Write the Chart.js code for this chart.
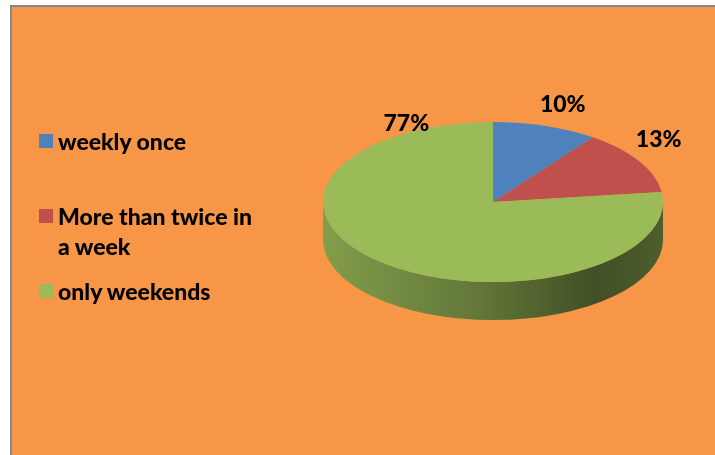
<!DOCTYPE html>
<html lang="en">
<head>
<meta charset="UTF-8">
<title>How often</title>
<script src="https://cdn.jsdelivr.net/npm/chart.js"></script>
<style>
  body { margin: 0; background: #fff; }
  .frame {
    position: absolute; left: 10px; top: 5px; width: 705px; height: 450px;
    background: #f79646; border-left: 2px solid #878787; border-top: 2px solid #878787;
  }
  #chart { position: absolute; left: 0; top: 0; }
  .legend {
    position: absolute; left: 39px; top: 0; margin: 0; padding: 0; list-style: none;
    font: 900 23px Lato, sans-serif; line-height: 30px; color: #000;
  }
  .legend li { position: relative; padding-left: 19px; width: 202px; }
  .legend li span { position: absolute; left: 0; top: 8px; width: 14px; height: 14px; }
  .legend li:nth-child(1) { margin-top: 126px; }
  .legend li:nth-child(2) { margin-top: 45px; }
  .legend li:nth-child(3) { margin-top: 15px; }
</style>
</head>
<body>
<div class="frame"></div>
<canvas id="chart" width="715" height="455"></canvas>
<ul class="legend" id="legend"></ul>

<script>
const categories = ['weekly once', 'More than twice in a week', 'only weekends'];
const shares = [10, 13, 77];
const sliceColors = ['#4f81bd', '#c0504d', '#9bbb59'];

// darken a #rrggbb colour by factor f
function shade(hex, f) {
  const n = parseInt(hex.slice(1), 16);
  const r = Math.round(((n >> 16) & 255) * f);
  const g = Math.round(((n >> 8) & 255) * f);
  const b = Math.round((n & 255) * f);
  return `rgb(${r},${g},${b})`;
}

// squash the pie into a tilted disc and give it a side wall
const pie3d = {
  id: 'pie3d',
  beforeDatasetsDraw(chart, args, opts) {
    const ctx = chart.ctx;
    const arcs = chart.getDatasetMeta(0).data;
    const cx = arcs[0].x, cy = arcs[0].y, r = arcs[0].outerRadius;
    const ry = r * opts.tilt;

    arcs.forEach((arc, i) => {
      const a1 = Math.max(arc.startAngle, 0);
      const a2 = Math.min(arc.endAngle, Math.PI);
      if (a2 <= a1) return;
      const base = arc.options.backgroundColor;
      const grad = ctx.createLinearGradient(cx - r, 0, cx + r, 0);
      grad.addColorStop(0, shade(base, 0.84));
      grad.addColorStop(0.45, shade(base, 0.64));
      grad.addColorStop(0.8, shade(base, 0.42));
      grad.addColorStop(1, shade(base, 0.5));
      ctx.save();
      ctx.beginPath();
      ctx.ellipse(cx, opts.centerY, r, ry, 0, a1, a2);
      ctx.ellipse(cx, opts.centerY + opts.depth, r, ry, 0, a2, a1, true);
      ctx.closePath();
      ctx.fillStyle = grad;
      ctx.fill();
      ctx.restore();
    });

    ctx.save();
    ctx.translate(0, opts.centerY);
    ctx.scale(1, opts.tilt);
    ctx.translate(0, -cy);
  },
  afterDatasetsDraw(chart, args, opts) {
    const ctx = chart.ctx;
    ctx.restore();

    // percentage labels around the disc
    const arcs = chart.getDatasetMeta(0).data;
    const cx = arcs[0].x, r = arcs[0].outerRadius;
    ctx.save();
    ctx.font = '900 23px Lato, sans-serif';
    ctx.fillStyle = '#000';
    ctx.textAlign = 'center';
    ctx.textBaseline = 'alphabetic';
    chart.data.datasets[0].data.forEach((v, i) => {
      const a = opts.labelAngles[i] * Math.PI / 180;
      const d = opts.labelDist[i];
      const x = cx + r * d * Math.cos(a);
      const y = opts.centerY + r * opts.tilt * d * Math.sin(a);
      ctx.fillText(v + '%', x, y);
    });
    ctx.restore();
  }
};

new Chart(document.getElementById('chart'), {
  type: 'pie',
  data: {
    labels: categories,
    datasets: [{
      data: shares,
      backgroundColor: sliceColors,
      borderWidth: 0
    }]
  },
  options: {
    responsive: false,
    devicePixelRatio: 1,
    animation: false,
    events: [],
    layout: { padding: { left: 323, right: 52, top: 0, bottom: 0 } },
    plugins: {
      legend: { display: false },
      tooltip: { enabled: false },
      pie3d: {
        tilt: 80 / 170,
        centerY: 202,
        depth: 38,
        labelAngles: [-70, -35, -120],
        labelDist: [1.2, 1.19, 1.02]
      }
    }
  },
  plugins: [pie3d]
});

// legend beside the pie
const legend = document.getElementById('legend');
categories.forEach((name, i) => {
  const li = document.createElement('li');
  li.innerHTML = `<span style="background:${sliceColors[i]}"></span>${name}`;
  legend.appendChild(li);
});
</script>
</body>
</html>
